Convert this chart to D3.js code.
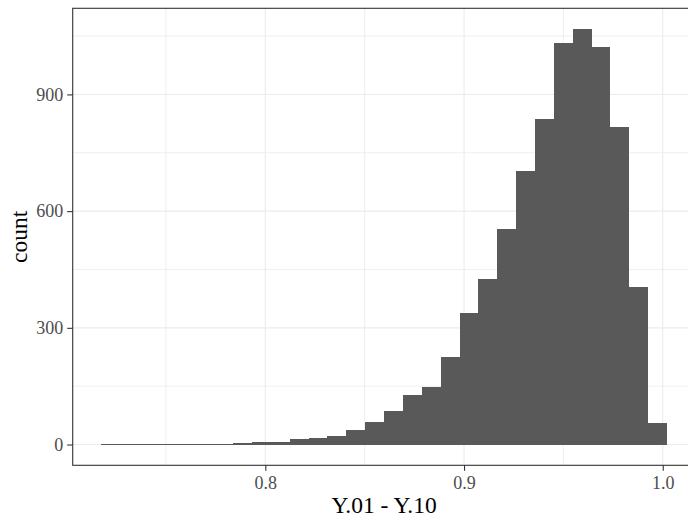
<!DOCTYPE html>
<html>
<head>
<meta charset="utf-8">
<script src="https://cdn.jsdelivr.net/npm/d3@7"></script>
<style>
  body { margin: 0; background: #fff; }
  svg { display: block; }
  text { font-family: "Liberation Serif", "Times New Roman", serif; }
</style>
</head>
<body>
<svg id="chart" width="688" height="518"></svg>
<script>
// histogram of Y.01 - Y.10, 30 bins
const binStart = 0.71731;
const binWidth = 0.009496;
const counts = [1, 1, 1, 1, 1, 1, 1, 3, 6, 6,
                14, 16, 21, 37, 57, 86, 127, 148, 224, 338,
                425, 554, 703, 836, 1032, 1068, 1022, 816, 404, 55];
const xTicks = [0.8, 0.9, 1.0];
const xMinor = [0.75, 0.85, 0.95];
const yTicks = [0, 300, 600, 900];
const yMinor = [150, 450, 750, 1050];

const svg = d3.select('#chart');
const panelLeft = 72.7, panelTop = 8.3, pw = 622.7, ph = 457;

const bins = counts.map((c, i) => ({
  x0: binStart + i * binWidth,
  x1: binStart + (i + 1) * binWidth,
  count: c
}));

// ggplot style 5% expansion
const xLo = binStart, xHi = binStart + counts.length * binWidth;
const xPad = (xHi - xLo) * 0.05;
const yPad = d3.max(counts) * 0.05;

const xScale = d3.scaleLinear().domain([xLo - xPad, xHi + xPad]).range([panelLeft, panelLeft + pw]);
const yScale = d3.scaleLinear().domain([-yPad, d3.max(counts) + yPad]).range([panelTop + ph, panelTop]);

// Grid
const grid = svg.append('g');
grid.selectAll('.xminor').data(xMinor).join('line')
  .attr('x1', d => xScale(d)).attr('x2', d => xScale(d))
  .attr('y1', panelTop).attr('y2', panelTop + ph)
  .attr('stroke', '#EBEBEB').attr('stroke-width', 0.8);
grid.selectAll('.yminor').data(yMinor).join('line')
  .attr('y1', d => yScale(d)).attr('y2', d => yScale(d))
  .attr('x1', panelLeft).attr('x2', panelLeft + pw)
  .attr('stroke', '#EBEBEB').attr('stroke-width', 0.8);
grid.selectAll('.xmajor').data(xTicks).join('line')
  .attr('x1', d => xScale(d)).attr('x2', d => xScale(d))
  .attr('y1', panelTop).attr('y2', panelTop + ph)
  .attr('stroke', '#EBEBEB').attr('stroke-width', 1.1);
grid.selectAll('.ymajor').data(yTicks).join('line')
  .attr('y1', d => yScale(d)).attr('y2', d => yScale(d))
  .attr('x1', panelLeft).attr('x2', panelLeft + pw)
  .attr('stroke', '#EBEBEB').attr('stroke-width', 1.1);

// Bars
svg.append('g').selectAll('rect').data(bins).join('rect')
  .attr('x', d => xScale(d.x0))
  .attr('width', d => xScale(d.x1) - xScale(d.x0))
  .attr('y', d => yScale(d.count))
  .attr('height', d => yScale(0) - yScale(d.count))
  .attr('fill', '#595959')
  .attr('shape-rendering', 'crispEdges');

// Panel border
svg.append('rect')
  .attr('x', panelLeft).attr('y', panelTop).attr('width', pw).attr('height', ph)
  .attr('fill', 'none').attr('stroke', '#333333').attr('stroke-width', 1.1);

// Axes
const xAxis = svg.append('g')
  .attr('transform', `translate(0,${panelTop + ph})`)
  .call(d3.axisBottom(xScale).tickValues(xTicks).tickFormat(d3.format('.1f')).tickSizeOuter(0).tickSize(5.5).tickPadding(5));
xAxis.select('.domain').remove();
xAxis.selectAll('line').attr('stroke', '#333333').attr('stroke-width', 1.1);
xAxis.selectAll('text').attr('fill', '#4D4D4D').style('font-size', '18px')
  .style('font-family', '"Liberation Serif", serif');

const yAxis = svg.append('g')
  .attr('transform', `translate(${panelLeft},0)`)
  .call(d3.axisLeft(yScale).tickValues(yTicks).tickSizeOuter(0).tickSize(5.5).tickPadding(4));
yAxis.select('.domain').remove();
yAxis.selectAll('line').attr('stroke', '#333333').attr('stroke-width', 1.1);
yAxis.selectAll('text').attr('fill', '#4D4D4D').style('font-size', '18px')
  .style('font-family', '"Liberation Serif", serif');

// Axis titles
svg.append('text')
  .attr('x', panelLeft + pw / 2).attr('y', 512.5)
  .attr('text-anchor', 'middle')
  .style('font-size', '23.5px').attr('fill', '#000')
  .text('Y.01 - Y.10');

svg.append('text')
  .attr('transform', `translate(27,${panelTop + ph / 2}) rotate(-90)`)
  .attr('text-anchor', 'middle')
  .style('font-size', '23.5px').attr('fill', '#000')
  .text('count');
</script>
</body>
</html>
